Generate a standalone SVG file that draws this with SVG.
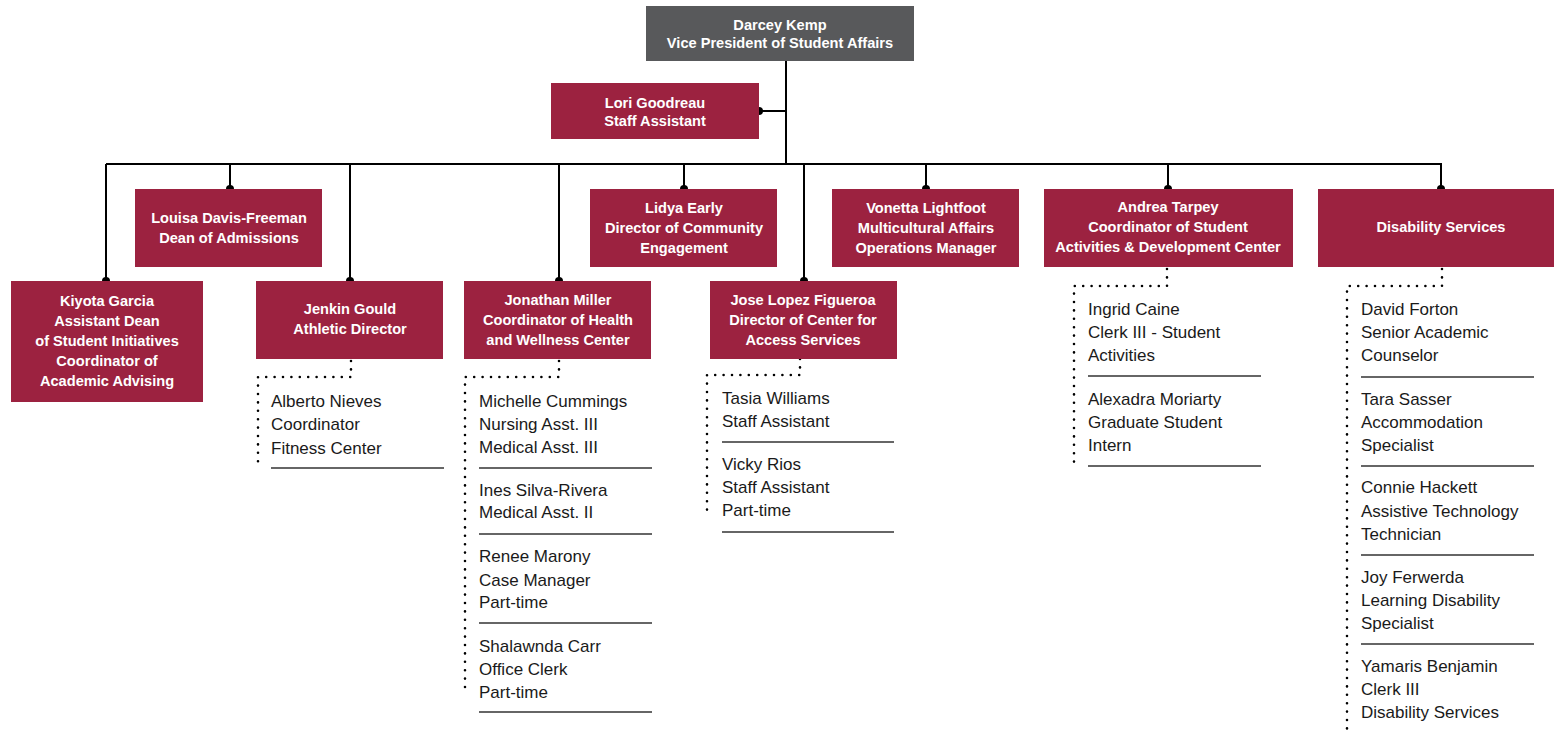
<svg xmlns="http://www.w3.org/2000/svg" width="1554" height="733" viewBox="0 0 1554 733">
  <style>
    .box { fill: #9c2240; }
    .top { fill: #58595b; }
    .bt { font-family: "Liberation Sans", Arial, sans-serif; font-weight: bold; font-size: 14.6px; fill: #ffffff; text-anchor: middle; }
    .lt { font-family: "Liberation Sans", Arial, sans-serif; font-size: 17px; fill: #1a1a1a; }
    .solid { fill: none; stroke: #000000; stroke-width: 2; }
    .dot { fill: none; stroke: #000000; stroke-width: 2.6; stroke-linecap: round; stroke-dasharray: 0 8.4; }
    .rule { stroke: #333333; stroke-width: 1.4; }
    .end { fill: #000000; }
  </style>

  <!-- reporting lines -->
  <g id="connectors">
    <path class="solid" d="M786 61 V164 M786 111 H759 M106 164 H1442"/>
    <path class="solid" d="M106 164 V281 M230 164 V189 M350 164 V281 M559 164 V281 M684 164 V189 M804 164 V281 M926 164 V189 M1168 164 V189 M1441 164 V189"/>
    <g class="end">
      <circle cx="759" cy="111" r="4"/>
      <circle cx="106" cy="281" r="4"/>
      <circle cx="230" cy="189" r="4"/>
      <circle cx="350" cy="281" r="4"/>
      <circle cx="559" cy="281" r="4"/>
      <circle cx="684" cy="189" r="4"/>
      <circle cx="804" cy="281" r="4"/>
      <circle cx="926" cy="189" r="4"/>
      <circle cx="1168" cy="189" r="4"/>
      <circle cx="1441" cy="189" r="4"/>
    </g>
    <!-- dotted staff lines -->
    <path class="dot" d="M351 361 V377 H258 V468"/>
    <path class="dot" d="M559 361 V377 H465 V694"/>
    <path class="dot" d="M800 359 V375 H707 V512"/>
    <path class="dot" d="M1167 269 V286 H1074 V466"/>
    <path class="dot" d="M1442 269 V286 H1347 V733"/>
  </g>

  <g id="vp">
    <rect class="top" x="646" y="6" width="268" height="55"/>
    <text class="bt" x="780" y="30">Darcey Kemp</text>
    <text class="bt" x="780" y="48">Vice President of Student Affairs</text>
  </g>

  <g id="goodreau">
    <rect class="box" x="551" y="83" width="208" height="56"/>
    <text class="bt" x="655" y="108">Lori Goodreau</text>
    <text class="bt" x="655" y="126">Staff Assistant</text>
  </g>

  <g id="davis-freeman">
    <rect class="box" x="135" y="189" width="187" height="78"/>
    <text class="bt" x="229" y="223">Louisa Davis-Freeman</text>
    <text class="bt" x="229" y="243">Dean of Admissions</text>
  </g>

  <g id="garcia">
    <rect class="box" x="11" y="281" width="192" height="121"/>
    <text class="bt" x="107" y="306">Kiyota Garcia</text>
    <text class="bt" x="107" y="326">Assistant Dean</text>
    <text class="bt" x="107" y="346">of Student Initiatives</text>
    <text class="bt" x="107" y="366">Coordinator of</text>
    <text class="bt" x="107" y="386">Academic Advising</text>
  </g>

  <g id="gould">
    <rect class="box" x="256" y="281" width="187" height="78"/>
    <text class="bt" x="350" y="314">Jenkin Gould</text>
    <text class="bt" x="350" y="334">Athletic Director</text>
  </g>

  <g id="miller">
    <rect class="box" x="464" y="281" width="187" height="78"/>
    <text class="bt" x="558" y="305">Jonathan Miller</text>
    <text class="bt" x="558" y="325">Coordinator of Health</text>
    <text class="bt" x="558" y="345">and Wellness Center</text>
  </g>

  <g id="early">
    <rect class="box" x="590" y="189" width="187" height="78"/>
    <text class="bt" x="684" y="213">Lidya Early</text>
    <text class="bt" x="684" y="233">Director of Community</text>
    <text class="bt" x="684" y="253">Engagement</text>
  </g>

  <g id="lopez-figueroa">
    <rect class="box" x="710" y="281" width="187" height="78"/>
    <text class="bt" x="803" y="305">Jose Lopez Figueroa</text>
    <text class="bt" x="803" y="325">Director of Center for</text>
    <text class="bt" x="803" y="345">Access Services</text>
  </g>

  <g id="lightfoot">
    <rect class="box" x="832" y="189" width="187" height="78"/>
    <text class="bt" x="926" y="213">Vonetta Lightfoot</text>
    <text class="bt" x="926" y="233">Multicultural Affairs</text>
    <text class="bt" x="926" y="253">Operations Manager</text>
  </g>

  <g id="tarpey">
    <rect class="box" x="1044" y="189" width="249" height="78"/>
    <text class="bt" x="1168" y="212">Andrea Tarpey</text>
    <text class="bt" x="1168" y="232">Coordinator of Student</text>
    <text class="bt" x="1168" y="252">Activities &amp; Development Center</text>
  </g>

  <g id="disability">
    <rect class="box" x="1318" y="189" width="246" height="78"/>
    <text class="bt" x="1441" y="232">Disability Services</text>
  </g>

  <!-- athletics staff -->
  <g id="athletics-staff">
    <text class="lt" x="271" y="407">Alberto Nieves</text>
    <text class="lt" x="271" y="430">Coordinator</text>
    <text class="lt" x="271" y="454">Fitness Center</text>
    <line class="rule" x1="271" y1="468" x2="444" y2="468"/>
  </g>

  <!-- health and wellness staff -->
  <g id="wellness-staff">
    <text class="lt" x="479" y="407">Michelle Cummings</text>
    <text class="lt" x="479" y="430">Nursing Asst. III</text>
    <text class="lt" x="479" y="453">Medical Asst. III</text>
    <line class="rule" x1="479" y1="468" x2="652" y2="468"/>
    <text class="lt" x="479" y="496">Ines Silva-Rivera</text>
    <text class="lt" x="479" y="518">Medical Asst. II</text>
    <line class="rule" x1="479" y1="534" x2="652" y2="534"/>
    <text class="lt" x="479" y="562">Renee Marony</text>
    <text class="lt" x="479" y="586">Case Manager</text>
    <text class="lt" x="479" y="608">Part-time</text>
    <line class="rule" x1="479" y1="623" x2="652" y2="623"/>
    <text class="lt" x="479" y="652">Shalawnda Carr</text>
    <text class="lt" x="479" y="675">Office Clerk</text>
    <text class="lt" x="479" y="698">Part-time</text>
    <line class="rule" x1="479" y1="712" x2="652" y2="712"/>
  </g>

  <!-- access services staff -->
  <g id="access-staff">
    <text class="lt" x="722" y="404">Tasia Williams</text>
    <text class="lt" x="722" y="427">Staff Assistant</text>
    <line class="rule" x1="722" y1="442" x2="894" y2="442"/>
    <text class="lt" x="722" y="470">Vicky Rios</text>
    <text class="lt" x="722" y="493">Staff Assistant</text>
    <text class="lt" x="722" y="516">Part-time</text>
    <line class="rule" x1="722" y1="532" x2="894" y2="532"/>
  </g>

  <!-- student activities staff -->
  <g id="activities-staff">
    <text class="lt" x="1088" y="315">Ingrid Caine</text>
    <text class="lt" x="1088" y="338">Clerk III - Student</text>
    <text class="lt" x="1088" y="361">Activities</text>
    <line class="rule" x1="1088" y1="376" x2="1261" y2="376"/>
    <text class="lt" x="1088" y="405">Alexadra Moriarty</text>
    <text class="lt" x="1088" y="428">Graduate Student</text>
    <text class="lt" x="1088" y="451">Intern</text>
    <line class="rule" x1="1088" y1="466" x2="1261" y2="466"/>
  </g>

  <!-- disability services staff -->
  <g id="disability-staff">
    <text class="lt" x="1361" y="315">David Forton</text>
    <text class="lt" x="1361" y="338">Senior Academic</text>
    <text class="lt" x="1361" y="361">Counselor</text>
    <line class="rule" x1="1361" y1="377" x2="1534" y2="377"/>
    <text class="lt" x="1361" y="405">Tara Sasser</text>
    <text class="lt" x="1361" y="428">Accommodation</text>
    <text class="lt" x="1361" y="451">Specialist</text>
    <line class="rule" x1="1361" y1="466" x2="1534" y2="466"/>
    <text class="lt" x="1361" y="493">Connie Hackett</text>
    <text class="lt" x="1361" y="517">Assistive Technology</text>
    <text class="lt" x="1361" y="540">Technician</text>
    <line class="rule" x1="1361" y1="555" x2="1534" y2="555"/>
    <text class="lt" x="1361" y="583">Joy Ferwerda</text>
    <text class="lt" x="1361" y="606">Learning Disability</text>
    <text class="lt" x="1361" y="629">Specialist</text>
    <line class="rule" x1="1361" y1="644" x2="1534" y2="644"/>
    <text class="lt" x="1361" y="672">Yamaris Benjamin</text>
    <text class="lt" x="1361" y="695">Clerk III</text>
    <text class="lt" x="1361" y="718">Disability Services</text>
  </g>
</svg>
